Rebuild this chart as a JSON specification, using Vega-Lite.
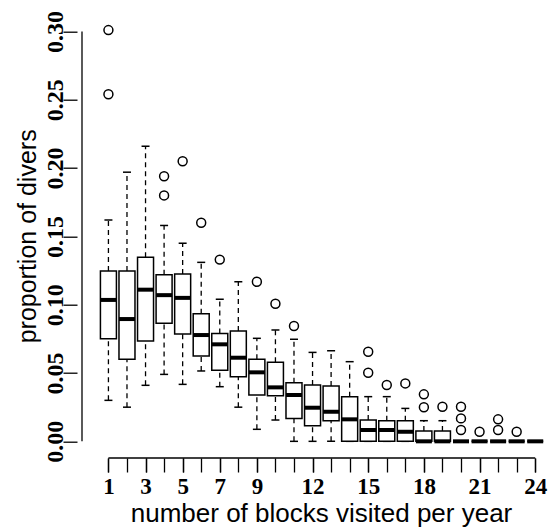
{
  "$schema": "https://vega.github.io/schema/vega-lite/v6.json",
  "width": 472.5,
  "height": 444.3,
  "autosize": {"type": "none"},
  "padding": {"left": 77, "top": 13.7, "right": 5.5, "bottom": 73},
  "background": "white",
  "config": {
    "view": {"stroke": null},
    "axis": {"grid": false, "domain": false, "tickColor": "#000", "labelColor": "#000", "titleColor": "#000", "tickWidth": 1.3}
  },
  "resolve": {"axis": {"x": "independent"}},
  "datasets": {
    "boxes": [
      {"k": 1, "lo": 0.030, "q1": 0.075, "med": 0.1035, "q3": 0.1247, "hi": 0.162},
      {"k": 2, "lo": 0.025, "q1": 0.060, "med": 0.0895, "q3": 0.1247, "hi": 0.197},
      {"k": 3, "lo": 0.041, "q1": 0.0734, "med": 0.111, "q3": 0.1347, "hi": 0.216},
      {"k": 4, "lo": 0.049, "q1": 0.0864, "med": 0.107, "q3": 0.122, "hi": 0.158},
      {"k": 5, "lo": 0.0417, "q1": 0.0785, "med": 0.105, "q3": 0.1225, "hi": 0.145},
      {"k": 6, "lo": 0.0515, "q1": 0.0624, "med": 0.0778, "q3": 0.0934, "hi": 0.131},
      {"k": 7, "lo": 0.040, "q1": 0.052, "med": 0.071, "q3": 0.079, "hi": 0.104},
      {"k": 8, "lo": 0.025, "q1": 0.0473, "med": 0.0612, "q3": 0.0807, "hi": 0.1168},
      {"k": 9, "lo": 0.0088, "q1": 0.0339, "med": 0.0505, "q3": 0.060, "hi": 0.0754},
      {"k": 10, "lo": 0.0156, "q1": 0.0334, "med": 0.0395, "q3": 0.0578, "hi": 0.0815},
      {"k": 11, "lo": 0, "q1": 0.0168, "med": 0.0339, "q3": 0.0429, "hi": 0.0747},
      {"k": 12, "lo": 0, "q1": 0.0114, "med": 0.0246, "q3": 0.0412, "hi": 0.0651},
      {"k": 13, "lo": 0, "q1": 0.0151, "med": 0.0217, "q3": 0.0405, "hi": 0.0663},
      {"k": 14, "lo": 0, "q1": 0, "med": 0.0161, "q3": 0.0327, "hi": 0.0583},
      {"k": 15, "lo": 0, "q1": 0, "med": 0.0083, "q3": 0.0156, "hi": 0.0327},
      {"k": 16, "lo": 0, "q1": 0, "med": 0.0083, "q3": 0.0151, "hi": 0.0327},
      {"k": 17, "lo": 0, "q1": 0, "med": 0.0070, "q3": 0.0151, "hi": 0.0241},
      {"k": 18, "lo": 0, "q1": 0, "med": 0, "q3": 0.0075, "hi": 0.0151},
      {"k": 19, "lo": 0, "q1": 0, "med": 0, "q3": 0.0075, "hi": 0.0151},
      {"k": 20, "lo": 0, "q1": 0, "med": 0, "q3": 0, "hi": 0},
      {"k": 21, "lo": 0, "q1": 0, "med": 0, "q3": 0, "hi": 0},
      {"k": 22, "lo": 0, "q1": 0, "med": 0, "q3": 0, "hi": 0},
      {"k": 23, "lo": 0, "q1": 0, "med": 0, "q3": 0, "hi": 0},
      {"k": 24, "lo": 0, "q1": 0, "med": 0, "q3": 0, "hi": 0}
    ],
    "outliers": [
      {"k": 1, "v": 0.301}, {"k": 1, "v": 0.254},
      {"k": 4, "v": 0.194}, {"k": 4, "v": 0.180},
      {"k": 5, "v": 0.205},
      {"k": 6, "v": 0.160},
      {"k": 7, "v": 0.133},
      {"k": 9, "v": 0.1168},
      {"k": 10, "v": 0.1007},
      {"k": 11, "v": 0.0844},
      {"k": 15, "v": 0.0656}, {"k": 15, "v": 0.0502},
      {"k": 16, "v": 0.0412},
      {"k": 17, "v": 0.0424},
      {"k": 18, "v": 0.0344}, {"k": 18, "v": 0.0249},
      {"k": 19, "v": 0.0253},
      {"k": 20, "v": 0.0253}, {"k": 20, "v": 0.0168}, {"k": 20, "v": 0.0083},
      {"k": 21, "v": 0.0070},
      {"k": 22, "v": 0.0161}, {"k": 22, "v": 0.0083},
      {"k": 23, "v": 0.0070}
    ]
  },
  "layer": [
    {
      "data": {"name": "boxes"},
      "mark": {"type": "rule", "strokeDash": [5, 4], "strokeWidth": 1.3, "color": "black"},
      "encoding": {
        "x": {
          "field": "k", "type": "quantitative",
          "scale": {"domain": [-0.424, 24.5], "nice": false, "zero": false},
          "axis": {
            "orient": "bottom",
            "values": [1,2,3,4,5,6,7,8,9,10,11,12,13,14,15,16,17,18,19,20,21,22,23,24],
            "labels": false, "tickSize": 14, "title": null
          }
        },
        "y": {
          "field": "q3", "type": "quantitative",
          "scale": {"domain": [-0.0122, 0.313], "nice": false, "zero": false},
          "axis": {
            "values": [0, 0.05, 0.1, 0.15, 0.2, 0.25, 0.3],
            "format": ".2f",
            "labelAngle": -90, "labelAlign": "center", "labelBaseline": "alphabetic",
            "labelFont": "Liberation Serif", "labelFontWeight": "bold", "labelFontSize": 24,
            "labelPadding": 1, "tickSize": 14, "labelFlush": false, "labelOverlap": false,
            "title": "proportion of divers",
            "titleFont": "Liberation Sans", "titleFontSize": 25, "titleFontWeight": "normal",
            "titlePadding": 3
          }
        },
        "y2": {"field": "hi"}
      }
    },
    {
      "data": {"name": "boxes"},
      "mark": {"type": "rule", "strokeDash": [5, 4], "strokeWidth": 1.3, "color": "black"},
      "encoding": {
        "x": {
          "field": "k", "type": "quantitative",
          "axis": {
            "orient": "bottom",
            "values": [1, 3, 5, 7, 9, 12, 15, 18, 21, 24],
            "labelFont": "Liberation Serif", "labelFontWeight": "bold", "labelFontSize": 23,
            "labelPadding": 3, "tickSize": 14, "labelFlush": false, "labelOverlap": false, "labelBound": false,
            "title": "number of blocks visited per year",
            "titleFont": "Liberation Sans", "titleFontSize": 26, "titleFontWeight": "normal",
            "titlePadding": 2, "titleX": 244
          }
        },
        "y": {"field": "lo", "type": "quantitative"},
        "y2": {"field": "q1"}
      }
    },
    {
      "data": {"name": "boxes"},
      "mark": {"type": "tick", "orient": "horizontal", "size": 8, "thickness": 1.5, "color": "black", "opacity": 1},
      "encoding": {
        "x": {"field": "k", "type": "quantitative", "axis": null},
        "y": {"field": "hi", "type": "quantitative"}
      }
    },
    {
      "data": {"name": "boxes"},
      "mark": {"type": "tick", "orient": "horizontal", "size": 8, "thickness": 1.5, "color": "black", "opacity": 1},
      "encoding": {
        "x": {"field": "k", "type": "quantitative", "axis": null},
        "y": {"field": "lo", "type": "quantitative"}
      }
    },
    {
      "data": {"name": "boxes"},
      "mark": {"type": "bar", "width": 16, "fill": "white", "stroke": "black", "strokeWidth": 1.5},
      "encoding": {
        "x": {"field": "k", "type": "quantitative", "axis": null},
        "y": {"field": "q1", "type": "quantitative"},
        "y2": {"field": "q3"}
      }
    },
    {
      "data": {"name": "boxes"},
      "mark": {"type": "tick", "orient": "horizontal", "size": 16, "thickness": 4, "color": "black", "opacity": 1},
      "encoding": {
        "x": {"field": "k", "type": "quantitative", "axis": null},
        "y": {"field": "med", "type": "quantitative"}
      }
    },
    {
      "data": {"name": "outliers"},
      "mark": {"type": "point", "shape": "circle", "size": 80, "filled": false, "stroke": "black", "strokeWidth": 1.5, "opacity": 1},
      "encoding": {
        "x": {"field": "k", "type": "quantitative", "axis": null},
        "y": {"field": "v", "type": "quantitative"}
      }
    },
    {
      "data": {"values": [{}]},
      "mark": {"type": "rule", "color": "black", "strokeWidth": 1.3},
      "encoding": {
        "x": {"datum": 1, "axis": null},
        "x2": {"datum": 24},
        "y": {"datum": -0.0122}
      }
    },
    {
      "data": {"values": [{}]},
      "mark": {"type": "rule", "color": "black", "strokeWidth": 1.3},
      "encoding": {
        "x": {"datum": -0.424, "axis": null},
        "y": {"datum": 0},
        "y2": {"datum": 0.3}
      }
    }
  ]
}
